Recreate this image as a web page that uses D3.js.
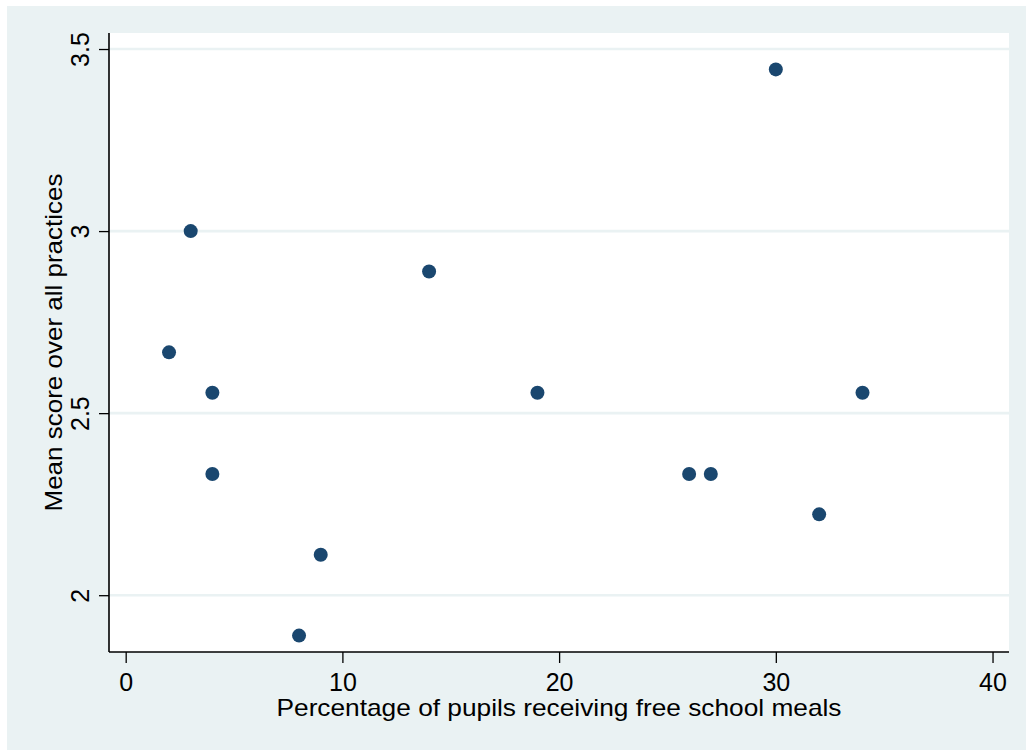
<!DOCTYPE html>
<html>
<head>
<meta charset="utf-8">
<script src="https://cdn.jsdelivr.net/npm/d3@7"></script>
<style>
  html, body { margin: 0; padding: 0; background: #ffffff; }
  svg { display: block; }
  text { font-family: "Liberation Sans", Arial, Helvetica, sans-serif; fill: #000; }
</style>
</head>
<body>
<svg id="chart" width="1026" height="751"></svg>
<script>
// Share of pupils on free school meals (%) for each school
const fsmPercent = [2, 3, 4, 4, 8, 9, 14, 19, 26, 27, 30, 32, 34];
// Mean score over all practices for the same schools
const meanScore = [2.667, 3.0, 2.556, 2.333, 1.889, 2.111, 2.889, 2.556, 2.333, 2.333, 3.444, 2.222, 2.556];
// Axis ticks
const xTicks = [0, 10, 20, 30, 40];
const yTicks = [2, 2.5, 3, 3.5];
const xTitle = "Percentage of pupils receiving free school meals";
const yTitle = "Mean score over all practices";

const points = fsmPercent.map((v, i) => ({ x: v, y: meanScore[i] }));

const svg = d3.select("#chart");
const W = 1026, H = 751;

// Graph region and plot region
const outer = { x: 7, y: 6, w: W - 7, h: H - 7 };
const plot = { left: 109, right: 1009, top: 33, bottom: 652 };

const bg = "#eaf2f3";
const dotColor = "#1a476f";

svg.append("rect")
  .attr("x", outer.x).attr("y", outer.y)
  .attr("width", outer.w).attr("height", outer.h)
  .attr("fill", bg);

svg.append("rect")
  .attr("x", plot.left).attr("y", plot.top)
  .attr("width", plot.right - plot.left).attr("height", plot.bottom - plot.top)
  .attr("fill", "#ffffff");

const x = d3.scaleLinear().domain([-0.77, 40.76]).range([plot.left, plot.right]);
const y = d3.scaleLinear().domain([1.844, 3.544]).range([plot.bottom, plot.top]);

// Horizontal grid lines
svg.append("g")
  .selectAll("line")
  .data(yTicks)
  .join("line")
  .attr("x1", plot.left).attr("x2", plot.right)
  .attr("y1", d => y(d)).attr("y2", d => y(d))
  .attr("stroke", bg)
  .attr("stroke-width", 2.6);

// X axis
const xAxis = d3.axisBottom(x)
  .tickValues(xTicks)
  .tickSize(11)
  .tickPadding(10)
  .tickFormat(d3.format("d"));

const gx = svg.append("g")
  .attr("transform", `translate(0,${plot.bottom})`)
  .call(xAxis);
gx.select(".domain").remove();
gx.append("line")
  .attr("x1", plot.left).attr("x2", plot.right)
  .attr("y1", 0).attr("y2", 0)
  .attr("stroke", "#000").attr("stroke-width", 1.6);
gx.selectAll(".tick line").attr("stroke", "#000").attr("stroke-width", 1.3);
gx.selectAll(".tick text")
  .attr("font-size", 25)
  .attr("fill", "#000")
  .style("font-family", "'Liberation Sans', Arial, sans-serif");

// Y axis (labels rotated to read upward)
const yAxis = d3.axisLeft(y)
  .tickValues(yTicks)
  .tickSize(10)
  .tickFormat(d => String(d));

const gy = svg.append("g")
  .attr("transform", `translate(${plot.left},0)`)
  .call(yAxis);
gy.select(".domain").remove();
gy.append("line")
  .attr("x1", 0).attr("x2", 0)
  .attr("y1", plot.top).attr("y2", plot.bottom)
  .attr("stroke", "#000").attr("stroke-width", 1.6);
gy.selectAll(".tick line").attr("stroke", "#000").attr("stroke-width", 1.3);
gy.selectAll(".tick text")
  .attr("x", null).attr("dy", null)
  .attr("transform", "translate(-20,0) rotate(-90)")
  .attr("text-anchor", "middle")
  .attr("font-size", 25)
  .attr("fill", "#000")
  .style("font-family", "'Liberation Sans', Arial, sans-serif");

// Axis titles
svg.append("text")
  .attr("x", (plot.left + plot.right) / 2)
  .attr("y", 716)
  .attr("text-anchor", "middle")
  .attr("font-size", 24)
  .attr("textLength", 565)
  .attr("lengthAdjust", "spacingAndGlyphs")
  .text(xTitle);

svg.append("text")
  .attr("transform", `translate(62,${(plot.top + plot.bottom) / 2}) rotate(-90)`)
  .attr("text-anchor", "middle")
  .attr("font-size", 24)
  .attr("textLength", 338)
  .attr("lengthAdjust", "spacingAndGlyphs")
  .text(yTitle);

// Scatter points
svg.append("g")
  .selectAll("circle")
  .data(points)
  .join("circle")
  .attr("cx", d => x(d.x))
  .attr("cy", d => y(d.y))
  .attr("r", 7)
  .attr("fill", dotColor);
</script>
</body>
</html>
